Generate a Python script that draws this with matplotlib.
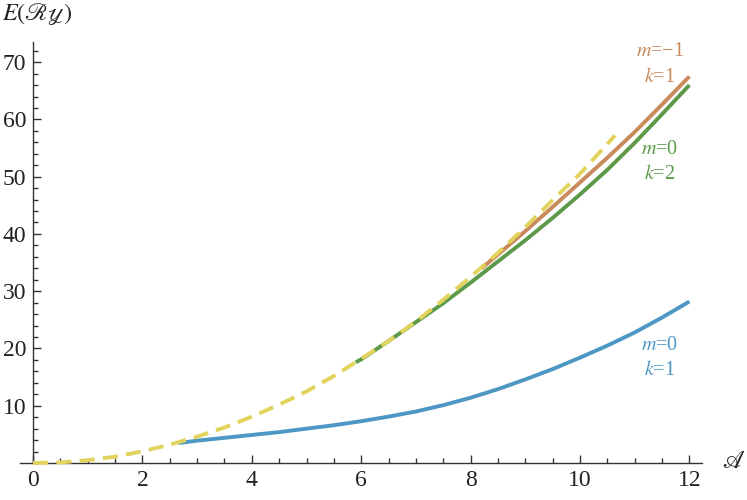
import matplotlib
matplotlib.use("Agg")
import matplotlib.pyplot as plt
from matplotlib.ticker import MultipleLocator

plt.rcParams["font.family"] = ["Liberation Serif", "DejaVu Serif"]
plt.rcParams["mathtext.fontset"] = "stix"

# ---------------- data ----------------
x_approx = [0, 0.5, 1, 1.5, 2, 2.5, 3, 3.5, 4, 4.5, 5, 5.5, 6, 6.5, 7,
            7.5, 8, 8.5, 9, 9.5, 10, 10.64]
E_approx = [0, 0.1, 0.5, 1.1, 2.05, 3.2, 4.6, 6.2, 8.1, 10.2, 12.5, 15.2,
            18.2, 21.3, 24.7, 28.5, 32.5, 36.7, 41.2, 45.9, 50.5, 57.2]

x_m0k1 = [2.66, 3, 3.5, 4, 4.5, 5, 5.5, 6, 6.5, 7, 7.5, 8, 8.5, 9, 9.5,
          10, 10.5, 11, 11.5, 12]
E_m0k1 = [3.5, 3.9, 4.4, 4.9, 5.4, 6.0, 6.6, 7.3, 8.1, 9.0, 10.1, 11.4,
          12.9, 14.6, 16.4, 18.4, 20.5, 22.8, 25.4, 28.2]

x_m0k2 = [5.9, 6, 6.5, 7, 7.5, 8, 8.5, 9, 9.5, 10, 10.5, 11, 11.5, 12]
E_m0k2 = [17.6, 18.1, 21.3, 24.6, 27.9, 31.5, 35.2, 38.9, 42.8, 46.9,
          51.2, 55.9, 60.9, 66.0]

x_m1k1 = [8.2, 8.5, 9, 9.5, 10, 10.5, 11, 11.5, 12]
E_m1k1 = [34.0, 36.4, 40.5, 44.7, 49.0, 53.3, 57.8, 62.6, 67.5]

c_blue = "#4d97c4"
c_orange = "#c98a5c"
c_green = "#5c9a4a"
c_yellow = "#e2d35c"

fig = plt.figure(figsize=(7.47, 5.0), dpi=100)
ax = fig.add_axes([0.0267, 0.0648, 0.913, 0.851])

lw = 2.8
ax.plot(x_m0k1, E_m0k1, color=c_blue, lw=lw, solid_capstyle="butt", zorder=2)
ax.plot(x_m0k2, E_m0k2, color=c_green, lw=lw, solid_capstyle="butt", zorder=2)
ax.plot(x_m1k1, E_m1k1, color=c_orange, lw=lw, solid_capstyle="butt", zorder=2)
ax.plot(x_approx, E_approx, color=c_yellow, lw=lw, dashes=(3.9, 2.1),
        dash_capstyle="butt", zorder=3, clip_on=False)

ax.set_xlim(-0.24, 12.23)
ax.set_ylim(-0.8, 73.5)

# axes crossing at the origin
for s in ["top", "right"]:
    ax.spines[s].set_visible(False)
ax.spines["left"].set_position(("data", 0))
ax.spines["bottom"].set_position(("data", 0))
ax.spines["left"].set_bounds(0, 73.5)
for s in ["left", "bottom"]:
    ax.spines[s].set_linewidth(1.0)
    ax.spines[s].set_color("#333333")

ax.xaxis.set_major_locator(MultipleLocator(2))
ax.xaxis.set_minor_locator(MultipleLocator(0.5))
ax.yaxis.set_major_locator(MultipleLocator(10))
ax.yaxis.set_minor_locator(MultipleLocator(2))
ax.tick_params(which="both", direction="in", color="#333333", width=1.0,
               labelsize=17, labelcolor="#222222")
ax.tick_params(which="major", length=5.8, pad=5)
ax.tick_params(which="minor", length=3.4)
ax.set_yticks([10, 20, 30, 40, 50, 60, 70])

# axis labels
fig.text(0.003, 0.972, r"$E(\mathscr{R}\mathscr{y})$", fontsize=17.5,
         ha="left", va="center", color="#222222")
fig.text(0.982, 0.076, r"$\mathscr{A}$", fontsize=18, ha="center",
         va="center", color="#222222")

# curve labels
fs = 14.5
lx = 11.46
ax.text(lx, 71.9, "$m$=\u22121", color=c_orange, fontsize=fs, ha="center", va="center")
ax.text(lx, 67.4, "$k$=1", color=c_orange, fontsize=fs, ha="center", va="center")
ax.text(lx, 54.8, "$m$=0", color=c_green, fontsize=fs, ha="center", va="center")
ax.text(lx, 50.4, "$k$=2", color=c_green, fontsize=fs, ha="center", va="center")
ax.text(lx, 20.6, "$m$=0", color=c_blue, fontsize=fs, ha="center", va="center")
ax.text(lx, 16.2, "$k$=1", color=c_blue, fontsize=fs, ha="center", va="center")

fig.savefig("out.png", dpi=100)
